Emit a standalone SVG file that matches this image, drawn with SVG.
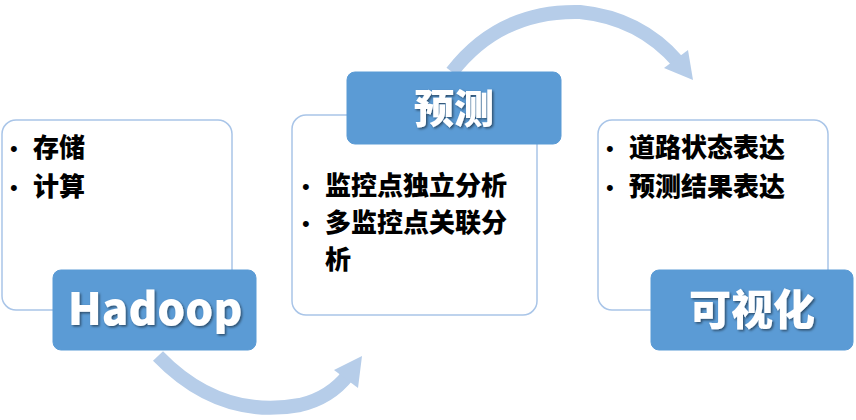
<svg xmlns="http://www.w3.org/2000/svg" width="856" height="420" viewBox="0 0 856 420">
<defs>
<style>
.box{fill:#fff;stroke:#a9c5e8;stroke-width:1.5}
.blue{fill:#5b9bd5;stroke:#5b9bd5}
.t{font-family:"Noto Sans CJK SC","Liberation Sans",sans-serif;font-weight:900;font-size:26px;fill:#000}
.b{font-family:"Liberation Sans",sans-serif;font-size:22px;fill:#000}
.h{font-family:"Noto Sans CJK SC","Liberation Sans",sans-serif;font-weight:900;fill:#fff;text-anchor:middle}
.arc{fill:none;stroke:#b6cde9;stroke-width:14}
.head{fill:#b6cde9}
</style>
<filter id="sh"><feDropShadow dx="1.5" dy="1.5" stdDeviation="1" flood-color="#000" flood-opacity="0.5"/></filter>
</defs>
<g id="connectors">
<path class="arc" d="M158,356 Q220,420 300,405 Q330,398 348,375"/>
<polygon class="head" points="362,356 358,388 334,370"/>
<path class="arc" d="M452,72 Q500,10 580,12 Q640,18 678,62"/>
<polygon class="head" points="693,80 664,68 688,50"/>
</g>
<g id="hadoop-box">
<rect class="box" x="2" y="120" width="230" height="190" rx="14"/>
<text class="b" x="10" y="156">•</text><text class="t" x="33" y="157">存储</text>
<text class="b" x="10" y="195">•</text><text class="t" x="33" y="196">计算</text>
</g>
<g id="hadoop">
<rect class="blue" x="53" y="270" width="203" height="80" rx="8"/>
<text class="h" x="155" y="325" font-size="44" filter="url(#sh)">Hadoop</text>
</g>
<g id="predict-box">
<rect class="box" x="292" y="115" width="245" height="200" rx="14"/>
<text class="b" x="302" y="194">•</text><text class="t" x="325" y="195">监控点独立分析</text>
<text class="b" x="302" y="231">•</text><text class="t" x="325" y="232">多监控点关联分</text>
<text class="t" x="325" y="269">析</text>
</g>
<g id="predict">
<rect class="blue" x="347" y="72" width="214" height="72" rx="8"/>
<text class="h" x="454" y="123" font-size="40" filter="url(#sh)">预测</text>
</g>
<g id="vis-box">
<rect class="box" x="598" y="120" width="230" height="190" rx="14"/>
<text class="b" x="606" y="156">•</text><text class="t" x="629" y="157">道路状态表达</text>
<text class="b" x="606" y="195">•</text><text class="t" x="629" y="196">预测结果表达</text>
</g>
<g id="vis">
<rect class="blue" x="651" y="270" width="202" height="80" rx="8"/>
<text class="h" x="752" y="325" font-size="42" filter="url(#sh)">可视化</text>
</g>
</svg>
